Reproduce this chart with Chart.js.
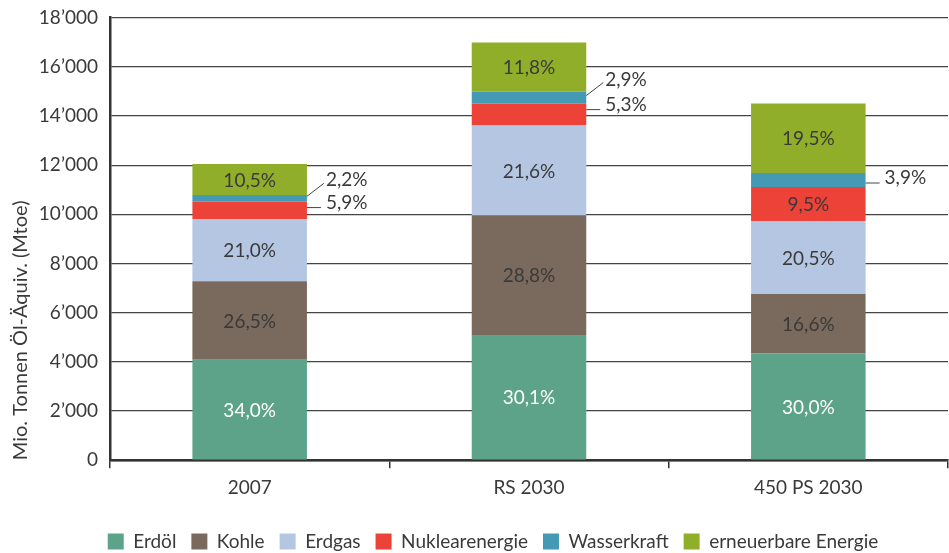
<!DOCTYPE html>
<html>
<head>
<meta charset="utf-8">
<script src="https://cdn.jsdelivr.net/npm/chart.js@4.4.0/dist/chart.umd.min.js"></script>
<style>
  html, body { margin: 0; padding: 0; background: #fff; }
  #wrap { width: 949px; height: 553px; }
</style>
</head>
<body>
<div id="wrap"><canvas id="chart" width="949" height="553"></canvas></div>
<script>
const categories = ['2007', 'RS 2030', '450 PS 2030'];

// Mio. Tonnen Öl-Äquivalent
const erdoel = [4090, 5090, 4350];
const kohle = [3190, 4870, 2410];
const erdgas = [2530, 3650, 2975];
const nuklear = [710, 895, 1380];
const wasser = [265, 490, 565];
const erneuerbar = [1265, 1995, 2830];

// shares printed on the bars
const erdoelPct = ['34,0%', '30,1%', '30,0%'];
const kohlePct = ['26,5%', '28,8%', '16,6%'];
const erdgasPct = ['21,0%', '21,6%', '20,5%'];
const nuklearPct = ['5,9%', '5,3%', '9,5%'];
const wasserPct = ['2,2%', '2,9%', '3,9%'];
const erneuerbarPct = ['10,5%', '11,8%', '19,5%'];

const yTicks = [0, 2000, 4000, 6000, 8000, 10000, 12000, 14000, 16000, 18000];

const FONT = 'Lato, "Open Sans", sans-serif';
const TEXT = '#3a3a3a';

const fmt = v => v === 0 ? '0' : Math.floor(v / 1000) + '\u2019' + String(v % 1000).padStart(3, '0');

const datasets = [
  { label: 'Erdöl', data: erdoel, pct: erdoelPct, backgroundColor: '#5ca38a', textColor: '#ffffff' },
  { label: 'Kohle', data: kohle, pct: kohlePct, backgroundColor: '#7a6a5d', textColor: TEXT },
  { label: 'Erdgas', data: erdgas, pct: erdgasPct, backgroundColor: '#b5c6e3', textColor: TEXT },
  { label: 'Nuklearenergie', data: nuklear, pct: nuklearPct, backgroundColor: '#ec4238', textColor: TEXT },
  { label: 'Wasserkraft', data: wasser, pct: wasserPct, backgroundColor: '#4499b5', textColor: TEXT },
  { label: 'erneuerbare Energie', data: erneuerbar, pct: erneuerbarPct, backgroundColor: '#91ae2b', textColor: TEXT }
].map(d => Object.assign(d, { borderWidth: 0, barPercentage: 0.41, categoryPercentage: 1 }));

// percentages inside the segments, small ones outside with a leader line
const segmentLabels = {
  id: 'segmentLabels',
  afterDatasetsDraw(chart) {
    const ctx = chart.ctx;
    ctx.save();
    ctx.font = '19px ' + FONT;
    ctx.textBaseline = 'middle';
    ctx.lineWidth = 1;
    ctx.strokeStyle = '#444';
    chart.data.datasets.forEach((ds, di) => {
      const meta = chart.getDatasetMeta(di);
      meta.data.forEach((bar, i) => {
        const top = Math.min(bar.y, bar.base);
        const h = Math.abs(bar.base - bar.y);
        const cy = top + h / 2;
        const right = bar.x + bar.width / 2;
        if (h >= 24) {
          ctx.fillStyle = ds.textColor;
          ctx.textAlign = 'center';
          ctx.fillText(ds.pct[i], bar.x, cy + 1);
          return;
        }
        const below = di > 0 ? chart.getDatasetMeta(di - 1).data[i] : null;
        const belowSmall = below && Math.abs(below.base - below.y) < 24;
        const above = chart.getDatasetMeta(di + 1) ? chart.getDatasetMeta(di + 1).data[i] : null;
        const aboveSmall = above && Math.abs(above.base - above.y) < 24;
        ctx.fillStyle = TEXT;
        ctx.textAlign = 'left';
        ctx.beginPath();
        if (belowSmall) {
          // upper of two small segments: slanted leader
          ctx.moveTo(right, cy - 2);
          ctx.lineTo(right + 17, cy - 15);
          ctx.stroke();
          ctx.fillText(ds.pct[i], right + 19, cy - 18);
        } else if (aboveSmall) {
          ctx.moveTo(right, top + 6);
          ctx.lineTo(right + 14, top + 6);
          ctx.stroke();
          ctx.fillText(ds.pct[i], right + 19, top + 1.5);
        } else {
          ctx.moveTo(right, cy + 3);
          ctx.lineTo(right + 14, cy + 3);
          ctx.stroke();
          ctx.fillText(ds.pct[i], right + 19, cy - 2);
        }
      });
    });
    ctx.restore();
  }
};

// nudge the legend to where the original sits
const legendShift = {
  id: 'legendShift',
  beforeDraw(chart) {
    const lg = chart.legend;
    if (!lg || lg._shifted) return;
    lg.left += 19; lg.right += 19;
    lg.top += 10; lg.bottom += 10;
    lg._shifted = true;
  },
  afterLayout(chart) { if (chart.legend) chart.legend._shifted = false; }
};

new Chart(document.getElementById('chart'), {
  type: 'bar',
  data: { labels: categories, datasets },
  plugins: [segmentLabels, legendShift],
  options: {
    responsive: false,
    animation: false,
    layout: { padding: { left: 0, right: 1, top: 0, bottom: 2 } },
    plugins: {
      tooltip: { enabled: false },
      legend: {
        position: 'bottom',
        labels: {
          boxWidth: 16,
          boxHeight: 16,
          padding: 15,
          color: TEXT,
          font: { family: FONT, size: 19 }
        }
      }
    },
    scales: {
      x: {
        stacked: true,
        grid: { drawOnChartArea: false, drawTicks: true, tickLength: 8, color: '#333', lineWidth: 1.5 },
        border: { color: '#333', width: 2.5 },
        ticks: { color: TEXT, font: { family: FONT, size: 19 }, padding: 8 }
      },
      y: {
        stacked: true,
        min: 0,
        max: 18000,
        afterBuildTicks: s => { s.ticks = yTicks.map(v => ({ value: v })); },
        afterFit: s => { s.width = 110; },
        grid: { color: '#444', lineWidth: 1.3, drawTicks: false },
        border: { color: '#333', width: 2.5 },
        ticks: { color: TEXT, font: { family: FONT, size: 19, lineHeight: 0.6 }, padding: 12, callback: v => fmt(v) },
        title: {
          display: true,
          align: 'start',
          text: 'Mio. Tonnen Öl-Äquiv. (Mtoe)',
          color: TEXT,
          font: { family: FONT, size: 20 },
          padding: { top: 9, bottom: 4 }
        }
      }
    }
  }
});
</script>
</body>
</html>
